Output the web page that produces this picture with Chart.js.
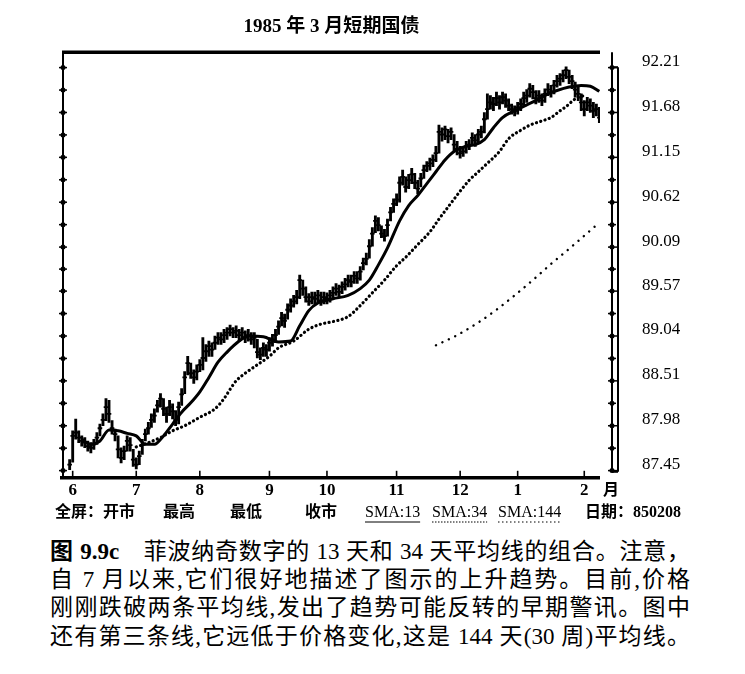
<!DOCTYPE html>
<html>
<head>
<meta charset="utf-8">
<script src="https://cdn.jsdelivr.net/npm/chart.js@4.4.1/dist/chart.umd.min.js"></script>
<style>
  body { margin: 0; background: #fff; width: 745px; height: 674px; overflow: hidden; }
  #wrap { position: relative; width: 745px; height: 530px; }
  .cap {
    position: absolute; left: 50px; width: 640px; height: 29px; line-height: 29px;
    font-size: 23px; font-family: "Liberation Serif", "Noto Sans CJK SC", serif;
    color: #000; text-align: justify; text-align-last: justify;
  }
</style>
</head>
<body>
<div id="wrap"><canvas id="chart" width="745" height="530"></canvas></div>
<div class="cap" style="top:537px"><b>图 9.9c</b>　菲波纳奇数字的 13 天和 34 天平均线的组合。注意，</div>
<div class="cap" style="top:565px">自 7 月以来,它们很好地描述了图示的上升趋势。目前,价格</div>
<div class="cap" style="top:593px">刚刚跌破两条平均线,发出了趋势可能反转的早期警讯。图中</div>
<div class="cap" style="top:622px">还有第三条线,它远低于价格变化,这是 144 天(30 周)平均线。</div>
<script>
// trading days counted from 1 June 1984 (day 0); first bar is the day before
const firstDay = -1

const closes = [
  87.52,
  87.86, 87.90, 87.84, 87.80, 87.78, 87.74, 87.72, 87.76, 87.84, 87.95,
  88.05, 88.20, 88.12, 87.95, 87.88, 87.70, 87.60, 87.68, 87.80, 87.75,
  87.58, 87.52, 87.62, 87.75, 87.88, 87.95, 88.05, 88.10, 88.22, 88.30,
  88.18, 88.12, 88.20, 88.15, 88.05, 88.20, 88.35, 88.55, 88.72, 88.60,
  88.55, 88.62, 88.70, 88.78, 88.86, 88.92, 88.88, 88.96, 89.02, 89.00,
  89.05, 89.08, 89.12, 89.08, 89.10, 89.05, 89.08, 89.02, 89.05, 89.00,
  89.02, 88.85, 88.82, 88.90, 88.88, 88.96, 89.00, 89.05, 89.15, 89.25,
  89.22, 89.35, 89.40, 89.45, 89.50, 89.70, 89.60, 89.50, 89.45, 89.50,
  89.48, 89.52, 89.46, 89.50, 89.48, 89.52, 89.55, 89.60, 89.56, 89.62,
  89.65, 89.70, 89.68, 89.75, 89.72, 89.80, 89.90, 89.95, 90.10, 90.25,
  90.40, 90.35, 90.25, 90.22, 90.35, 90.50, 90.60, 90.65, 90.85, 90.92,
  90.80, 90.88, 90.95, 90.85, 90.78, 90.90, 91.00, 91.05, 91.08, 91.12,
  91.20, 91.45, 91.42, 91.48, 91.40, 91.45, 91.30, 91.25, 91.20, 91.22,
  91.28, 91.30, 91.38, 91.35, 91.42, 91.45, 91.60, 91.72, 91.80, 91.78,
  91.85, 91.80, 91.86, 91.82, 91.76, 91.72, 91.70, 91.74, 91.78, 91.85,
  91.88, 91.96, 91.92, 91.85, 91.88, 91.82, 91.90, 91.95, 91.92, 92.00,
  92.05, 92.08, 92.12, 92.18, 92.10, 92.05, 91.95, 91.90, 91.80, 91.72,
  91.80, 91.76, 91.70, 91.72, 91.62
]
const highs = [
  87.58,
  87.92, 88.06, 87.92, 87.86, 87.84, 87.80, 87.78, 87.82, 87.90, 88.00,
  88.12, 88.30, 88.28, 88.04, 87.94, 87.86, 87.72, 87.74, 87.86, 87.84,
  87.70, 87.60, 87.68, 87.82, 87.94, 88.02, 88.12, 88.18, 88.28, 88.36,
  88.30, 88.20, 88.28, 88.24, 88.16, 88.26, 88.42, 88.62, 88.80, 88.72,
  88.64, 88.70, 88.76, 89.02, 88.94, 88.98, 88.96, 89.04, 89.08, 89.08,
  89.12, 89.14, 89.17, 89.14, 89.16, 89.12, 89.14, 89.10, 89.12, 89.08,
  89.08, 89.00, 88.90, 88.96, 88.94, 89.02, 89.06, 89.12, 89.22, 89.32,
  89.30, 89.42, 89.48, 89.52, 89.58, 89.76, 89.70, 89.62, 89.54, 89.56,
  89.56, 89.58, 89.56, 89.56, 89.55, 89.58, 89.62, 89.66, 89.64, 89.68,
  89.72, 89.76, 89.76, 89.80, 89.80, 89.86, 89.96, 90.02, 90.18, 90.32,
  90.46, 90.44, 90.34, 90.30, 90.42, 90.56, 90.66, 90.72, 90.92, 91.00,
  90.92, 90.95, 91.02, 90.96, 90.88, 90.96, 91.06, 91.10, 91.14, 91.18,
  91.28, 91.53, 91.50, 91.52, 91.48, 91.50, 91.42, 91.34, 91.28, 91.28,
  91.34, 91.36, 91.44, 91.42, 91.48, 91.52, 91.68, 91.90, 91.88, 91.86,
  91.92, 91.88, 91.92, 91.90, 91.84, 91.78, 91.76, 91.80, 91.84, 91.92,
  91.95, 92.02, 92.00, 91.94, 91.94, 91.90, 91.96, 92.02, 92.00, 92.06,
  92.12, 92.14, 92.18, 92.22, 92.18, 92.12, 92.04, 91.98, 91.90, 91.82,
  91.86, 91.84, 91.80, 91.78, 91.74
]
const lows = [
  87.46,
  87.55, 87.82, 87.78, 87.74, 87.72, 87.68, 87.66, 87.70, 87.76, 87.86,
  87.98, 88.04, 88.02, 87.88, 87.80, 87.60, 87.54, 87.58, 87.68, 87.68,
  87.50, 87.47, 87.52, 87.64, 87.80, 87.88, 87.96, 88.02, 88.14, 88.20,
  88.10, 88.02, 88.10, 88.06, 87.98, 88.00, 88.22, 88.36, 88.58, 88.54,
  88.48, 88.52, 88.62, 88.64, 88.74, 88.80, 88.80, 88.88, 88.94, 88.94,
  88.96, 89.00, 89.04, 89.02, 89.02, 88.98, 89.00, 88.96, 88.98, 88.94,
  88.90, 88.78, 88.76, 88.80, 88.80, 88.86, 88.92, 88.96, 89.06, 89.16,
  89.14, 89.24, 89.32, 89.38, 89.42, 89.48, 89.52, 89.44, 89.40, 89.42,
  89.42, 89.44, 89.40, 89.42, 89.42, 89.44, 89.48, 89.52, 89.50, 89.54,
  89.58, 89.62, 89.62, 89.66, 89.66, 89.70, 89.82, 89.88, 89.96, 90.10,
  90.26, 90.28, 90.20, 90.16, 90.22, 90.40, 90.50, 90.58, 90.62, 90.82,
  90.74, 90.78, 90.84, 90.78, 90.72, 90.80, 90.90, 90.98, 91.00, 91.04,
  91.10, 91.20, 91.34, 91.36, 91.32, 91.36, 91.22, 91.18, 91.14, 91.16,
  91.20, 91.24, 91.30, 91.28, 91.32, 91.38, 91.44, 91.60, 91.72, 91.70,
  91.76, 91.72, 91.78, 91.74, 91.70, 91.66, 91.64, 91.66, 91.70, 91.76,
  91.80, 91.86, 91.84, 91.78, 91.80, 91.76, 91.80, 91.88, 91.86, 91.90,
  91.98, 92.00, 92.04, 92.08, 92.02, 91.96, 91.86, 91.82, 91.70, 91.64,
  91.70, 91.68, 91.62, 91.64, 91.56
]

// moving averages
const sma13Days = [3, 6, 9, 12, 15, 18, 21, 24, 27, 30, 33, 36, 39, 42, 45, 48, 51, 55, 58, 63,
  68, 72, 75, 78, 81, 86, 91, 95, 98, 101, 104, 108, 111, 114, 117, 120, 123, 126, 130, 133,
  136, 139, 142, 146, 150, 153, 157, 160, 164, 168, 171, 174]
const sma13Vals = [87.82, 87.76, 87.80, 87.93, 87.92, 87.89, 87.86, 87.76, 87.76, 87.86,
  88.00, 88.14, 88.25, 88.38, 88.55, 88.73, 88.85, 88.98, 89.04, 89.03,
  88.97, 88.98, 89.16, 89.34, 89.43, 89.48, 89.52, 89.60, 89.70, 89.88,
  90.08, 90.40, 90.58, 90.70, 90.84, 90.98, 91.12, 91.22, 91.28, 91.30,
  91.36, 91.50, 91.62, 91.70, 91.77, 91.82, 91.90, 91.94, 91.98, 92.00, 91.99, 91.93]

const sma34Days = [21, 25, 29, 33, 37, 42, 47, 50, 52, 54, 57, 61, 65, 68, 73, 78, 82, 86, 91, 95,
  99, 103, 107, 110, 114, 118, 121, 125, 128, 131, 134, 137, 141, 144, 148, 151, 155, 158, 161, 163,
  166, 169]
const sma34Vals = [87.73, 87.78, 87.84, 87.92, 87.98, 88.08, 88.18, 88.30, 88.41, 88.51,
  88.60, 88.70, 88.80, 88.90, 88.98, 89.12, 89.18, 89.21, 89.27, 89.40,
  89.55, 89.70, 89.87, 89.97, 90.12, 90.27, 90.42, 90.61, 90.75, 90.88,
  90.98, 91.08, 91.22, 91.37, 91.47, 91.53, 91.58, 91.62, 91.70, 91.75, 91.84, 91.88]

const sma144Days = [120, 127, 134, 140, 146, 152, 158, 165, 174]
const sma144Vals = [88.93, 89.05, 89.20, 89.35, 89.52, 89.70, 89.89, 90.10, 90.38]

const monthDays = [0, 21, 42, 65, 84, 107, 128, 147, 169]
const monthLabels = ['6', '7', '8', '9', '10', '11', '12', '1', '2']
const yTicks = [87.45, 87.98, 88.51, 89.04, 89.57, 90.09, 90.62, 91.15, 91.68, 92.21]

const title = '1985 年 3 月短期国债'
const footer = [
    ['全屏：开市', 55], ['最高', 163], ['最低', 230], ['收市', 305],
    ['SMA:13', 365, []], ['SMA:34', 432, [1.5, 1.5]], ['SMA:144', 498, [1.5, 2.5]],
    ['日期：850208', 585]
]

const FONT = '"Liberation Serif", "Noto Sans CJK SC", serif'
const INK = '#000'

const days = closes.map((c, i) => firstDay + i)
const pts = (xs, ys) => xs.map((x, i) => ({x: x, y: ys[i]}))

// rails, dots, month ticks and the text around the frame
const frame = {
    id: 'frame',
    afterDraw(chart) {
        const {ctx, chartArea: a, scales} = chart
        const line = (x1, y1, x2, y2) => {
            ctx.beginPath(); ctx.moveTo(x1, y1); ctx.lineTo(x2, y2); ctx.stroke()
        }
        ctx.save()
        ctx.strokeStyle = INK
        ctx.fillStyle = INK

        ctx.lineWidth = 3.5
        line(a.left - 1, a.top, a.right, a.top)
        line(a.left - 3, a.bottom, a.right, a.bottom)

        ctx.lineWidth = 2
        line(a.left, a.top, a.left, a.bottom)
        const r1 = a.right + 12, r2 = a.right + 18
        line(r1, a.top, r1, a.bottom - 6)
        line(r2, a.top + 15, r2, a.bottom - 6)
        line(r1, a.top + 15, r2, a.top + 15)
        line(r1, a.bottom - 6, r2, a.bottom - 6)

        // dots at every tick and half tick
        const ys = yTicks.map(v => scales.y.getPixelForValue(v))
        const half = []
        ys.forEach((p, i) => {
            half.push([p, true])
            if (i < ys.length - 1) half.push([(p + ys[i + 1]) / 2, false])
        })
        half.forEach(([p, major]) => {
            ctx.beginPath(); ctx.arc(a.left, p, 2.5, 0, Math.PI * 2); ctx.fill()
            ctx.beginPath(); ctx.arc(r1, p, 2.5, 0, Math.PI * 2); ctx.fill()
            ctx.lineWidth = 1.5
            line(a.left - 4, p, a.left + 4, p)
            line(r1 - 4, p, major ? r2 : r1 + 4, p)
        })

        ctx.lineWidth = 1.6
        monthDays.forEach(d => {
            const px = scales.x.getPixelForValue(d)
            line(px, a.bottom, px, a.bottom - 7)
        })

        ctx.textBaseline = 'middle'
        ctx.textAlign = 'center'
        ctx.font = 'bold 19px ' + FONT
        ctx.fillText(title, (a.left + a.right) / 2, 27)

        ctx.textAlign = 'left'
        ctx.font = 'bold 16px ' + FONT
        ctx.fillText('月', a.right + 3, 491)

        footer.forEach(([txt, x, dash]) => {
            ctx.font = (dash ? '' : 'bold ') + '16px ' + FONT
            ctx.fillText(txt, x, 513)
            if (dash) {
                const w = ctx.measureText(txt).width
                ctx.lineWidth = 1
                ctx.setLineDash(dash)
                line(x, 522, x + w, 522)
                ctx.setLineDash([])
            }
        })
        ctx.restore()
    }
}

new Chart(document.getElementById('chart'), {
    type: 'line',
    data: {
        datasets: [
            {
                type: 'bar',
                data: days.map((d, i) => ({x: d, y: [lows[i], highs[i]]})),
                backgroundColor: INK,
                barThickness: 2.2,
                grouped: false,
                order: 4
            },
            {
                data: pts(days, closes),
                showLine: false,
                pointStyle: 'line',
                pointRadius: 2.3,
                pointBorderWidth: 1.8,
                borderColor: INK,
                order: 3
            },
            {
                data: pts(sma13Days, sma13Vals),
                borderColor: INK,
                borderWidth: 3,
                pointRadius: 0,
                cubicInterpolationMode: 'monotone',
                order: 1
            },
            {
                data: pts(sma34Days, sma34Vals),
                borderColor: INK,
                borderWidth: 3.2,
                borderDash: [0.1, 4.4],
                borderCapStyle: 'round',
                pointRadius: 0,
                cubicInterpolationMode: 'monotone',
                order: 2
            },
            {
                data: pts(sma144Days, sma144Vals),
                borderColor: INK,
                borderWidth: 2.4,
                borderDash: [0.1, 7],
                borderCapStyle: 'round',
                pointRadius: 0,
                cubicInterpolationMode: 'monotone',
                order: 2
            }
        ]
    },
    options: {
        responsive: false,
        animation: false,
        layout: {padding: {left: 63, top: 37, right: 0, bottom: 0}},
        plugins: {legend: {display: false}, tooltip: {enabled: false}},
        scales: {
            x: {
                type: 'linear',
                min: -3.2,
                max: 174.2,
                offset: false,
                grid: {display: false, drawTicks: false},
                border: {display: false},
                afterBuildTicks: s => { s.ticks = monthDays.map(v => ({value: v})) },
                afterFit: s => { s.height = 51 },
                ticks: {
                    autoSkip: false,
                    maxRotation: 0,
                    padding: 3,
                    color: INK,
                    font: {family: FONT, size: 17, weight: 'bold'},
                    callback: v => monthLabels[monthDays.indexOf(v)]
                }
            },
            y: {
                type: 'linear',
                position: 'right',
                min: 87.365,
                max: 92.392,
                beginAtZero: false,
                grid: {display: false, drawTicks: false},
                border: {display: false},
                afterBuildTicks: s => { s.ticks = yTicks.map(v => ({value: v})) },
                afterFit: s => { s.width = 145 },
                ticks: {
                    padding: 42,
                    labelOffset: -6,
                    color: INK,
                    font: {family: FONT, size: 17},
                    callback: v => v.toFixed(2)
                }
            }
        }
    },
    plugins: [frame]
})
</script>
</body>
</html>
